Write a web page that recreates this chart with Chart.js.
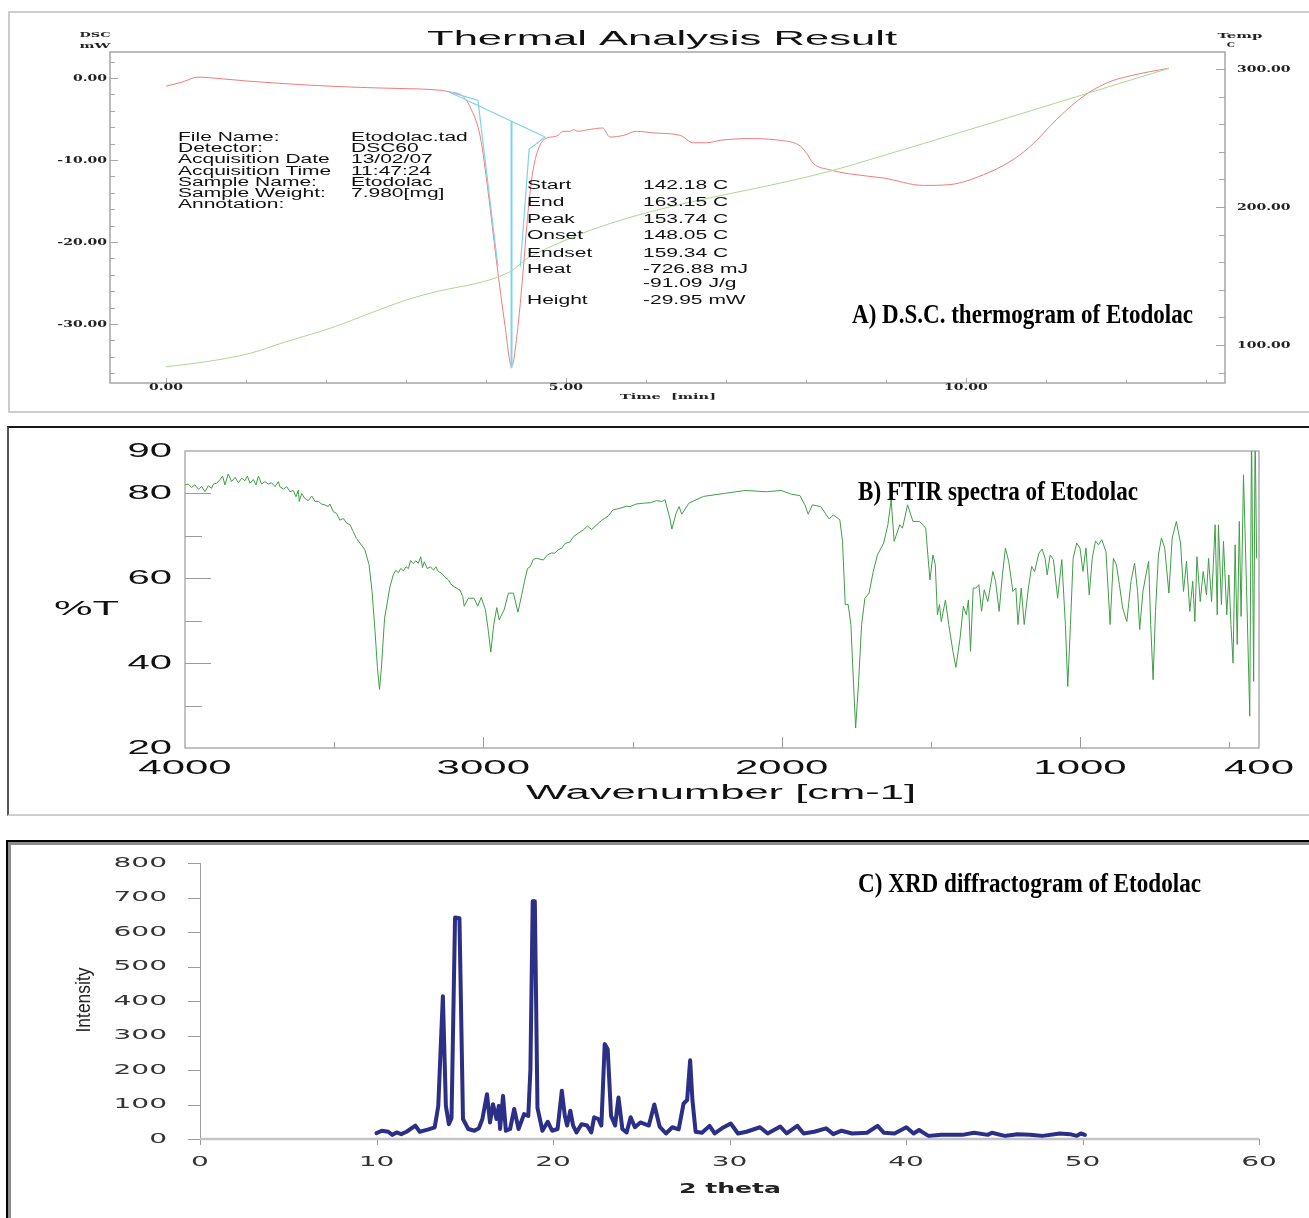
<!DOCTYPE html>
<html>
<head>
<meta charset="utf-8">
<title>Etodolac - DSC, FTIR and XRD</title>
<script src="https://cdn.jsdelivr.net/npm/chart.js@4.4.0/dist/chart.umd.min.js"></script>
<style>
  body { margin: 0; background: #fff; }
  #page { position: relative; width: 1309px; height: 1218px; overflow: hidden; }
  canvas { position: absolute; left: 0; }
  .frame { position: absolute; box-sizing: border-box; }
  #frameA { left: 8px; top: 11px; width: 1310px; height: 402px; border: 2px solid #cdcdcd; }
  #frameB { left: 7px; top: 426px; width: 1310px; height: 390px; border-top: 2px solid #1a1a1a; border-left: 2px solid #555; border-bottom: 2px solid #cfcfcf; }
  #frameC { left: 6px; top: 840px; width: 1310px; height: 400px; border-top: 2px solid #000; border-left: 2px solid #000; box-shadow: inset 3px 3px 0 #8c8c8c; }
</style>
</head>
<body>
<div id="page">
  <div class="frame" id="frameA"></div>
  <div class="frame" id="frameB"></div>
  <div class="frame" id="frameC"></div>
  <canvas id="dscChart" width="1309" height="415" style="top:0px"></canvas>
  <canvas id="ftirChart" width="1309" height="410" style="top:415px"></canvas>
  <canvas id="xrdChart" width="1309" height="393" style="top:825px"></canvas>
</div>
<script>
// ---------- A) DSC thermogram ----------
// heat flow (mW) against time (min), red curve
const dscTime = [0, 0.2, 0.4, 0.7, 1.05, 1.5, 2.05, 2.6, 3.0, 3.3,
  3.55, 3.72, 3.82, 3.93, 4.03, 4.13, 4.24, 4.32, 4.40, 4.47,
  4.51, 4.55, 4.59, 4.65, 4.74, 4.88, 4.97, 5.05, 5.1, 5.15,
  5.28, 5.46, 5.55, 5.72, 5.88, 6.1, 6.43, 6.59, 6.76, 6.93,
  7.26, 7.68, 7.93, 8.01, 8.09, 8.3, 8.55, 8.97, 9.47, 9.8,
  10.22, 10.55, 10.8, 11.13, 11.38, 11.55, 11.8, 12.01, 12.3, 12.54];
const dscHeat = [-1.0, -0.5, 0.1, -0.1, -0.4, -0.7, -1.0, -1.2, -1.3, -1.4,
  -1.7, -2.3, -3.9, -7.2, -14.1, -22.2, -30.3, -35.2, -30.3, -23.0,
  -18.1, -14.1, -11.2, -8.8, -7.4, -7.1, -6.5, -6.5, -6.3, -6.5,
  -6.3, -6.1, -7.2, -7.0, -6.5, -6.7, -7.0, -7.9, -7.9, -7.6,
  -7.4, -7.6, -8.3, -9.2, -10.4, -11.2, -11.7, -12.2, -13.1, -13.0,
  -11.8, -10.2, -8.4, -5.1, -2.9, -1.7, -0.45, 0.16, 0.77, 1.18];

// sample temperature (C), green curve on the right axis
const tempTime = [0, 0.5, 1.05, 1.5, 2.05, 2.6, 3.0, 3.3, 4.3, 4.55, 8.55, 12.54];
const tempC = [84.3, 87.9, 94, 102.4, 112.1, 124.1, 132.6, 137.5, 153.1, 164, 230, 300.5];

// peak analysis construction lines (cyan)
const baseT = [3.54, 4.74];
const baseY = [-1.7, -7.2];
const onsetT = [3.54, 3.9, 4.15];
const onsetY = [-1.7, -2.7, -23];
const endsetT = [4.43, 4.54, 4.74];
const endsetY = [-23, -8.7, -7.2];
const peakLineT = [4.32, 4.32];
const peakLineY = [-5.3, -35.4];

const dscHeatTicks = [0, -10, -20, -30];
const dscTempTicks = [100, 200, 300];
const dscTimeTicks = [0, 5, 10];

const infoLabels = ['File Name:', 'Detector:', 'Acquisition Date', 'Acquisition Time', 'Sample Name:', 'Sample Weight:', 'Annotation:'];
const infoValues = ['Etodolac.tad', 'DSC60', '13/02/07', '11:47:24', 'Etodolac', '7.980[mg]', ''];
const peakLabels = ['Start', 'End', 'Peak', 'Onset', 'Endset', 'Heat', '', 'Height'];
const peakValues = ['142.18 C', '163.15 C', '153.74 C', '148.05 C', '159.34 C', '-726.88 mJ', '-91.09 J/g', '-29.95 mW'];

// ---------- B) FTIR spectrum ----------
const ftirWavenumber = [
  // 4000 - 3380
  4000, 3989, 3978, 3967, 3955, 3944, 3933, 3922, 3911, 3905,
  3894, 3883, 3874, 3866, 3855, 3844, 3832, 3821, 3810, 3799,
  3791, 3782, 3771, 3762, 3754, 3743, 3732, 3721, 3710, 3698,
  3687, 3682, 3670, 3659, 3648, 3637, 3628, 3620, 3617, 3609,
  3598, 3587, 3575, 3564, 3553, 3542, 3531, 3520, 3514, 3503,
  3492, 3481, 3469, 3458, 3447, 3436, 3425, 3397, 3383,
  // O-H / N-H band
  3373, 3363, 3355, 3348, 3341, 3331,
  // 3313 - 3069
  3313, 3302, 3293, 3285, 3277, 3268, 3259, 3251, 3244, 3235,
  3226, 3218, 3210, 3204, 3198, 3188, 3177, 3167, 3159, 3151,
  3140, 3128, 3117, 3106, 3095, 3078, 3069,
  // C-H bands
  3064, 3050, 3031, 3019, 3007, 2993, 2983, 2975, 2965, 2955,
  2947, 2930, 2916, 2899, 2884, 2871, 2862,
  // 2852 - 2391
  2852, 2843, 2832, 2821, 2799, 2785, 2771, 2760, 2749, 2737,
  2726, 2709, 2698, 2682, 2665, 2651, 2637, 2620, 2603, 2581,
  2566, 2542, 2520, 2508, 2488, 2464, 2441, 2419, 2402, 2391,
  // 2375 - 1922
  2375, 2368, 2354, 2344, 2335, 2311, 2262, 2192, 2122, 2051,
  2002, 1967, 1939, 1922,
  // fingerprint region
  1911, 1897, 1869, 1841, 1827, 1805, 1796, 1787, 1777, 1768,
  1759, 1752, 1742, 1732, 1721, 1707, 1693, 1679, 1658, 1644,
  1633, 1623, 1604, 1595, 1578, 1560, 1538, 1517, 1510, 1503,
  1493, 1485, 1478, 1471, 1465, 1451, 1440, 1426, 1416, 1402,
  1391, 1381, 1374, 1367, 1358, 1349, 1339, 1330, 1321, 1309,
  1292, 1283, 1271, 1260, 1250, 1239, 1225, 1215, 1208, 1197,
  1187, 1173, 1162, 1152, 1138, 1127, 1117, 1110, 1100, 1089,
  1075, 1061, 1049, 1041, 1032, 1023, 1011, 1000, 990, 980,
  969, 959, 948, 938, 927, 913, 899, 888, 878, 868,
  857, 843, 829, 817, 807, 800, 789, 779, 770, 763,
  755, 747, 737, 727, 716, 702, 691, 677, 663, 653,
  643, 632, 622, 615, 608, 597, 587, 576, 569, 559,
  547, 540, 536, 526, 519, 508, 501, 494, 487, 480,
  473, 466, 460, 452, 442, 431, 425, 418, 413, 408];
const ftirTransmittance = [
  82.0, 82.2, 81.4, 82.0, 81.0, 81.6, 80.4, 81.8, 81.2, 82.2,
  82.4, 83.2, 84.1, 82.0, 84.6, 82.8, 83.8, 82.5, 83.6, 83.0,
  84.1, 82.4, 83.3, 82.0, 84.1, 82.2, 82.8, 82.2, 82.5, 81.6,
  82.8, 81.6, 81.0, 81.6, 80.4, 80.7, 79.2, 80.8, 78.1, 80.0,
  78.8, 78.3, 79.4, 78.1, 78.1, 77.5, 77.3, 76.9, 77.5, 75.7,
  75.3, 73.7, 74.1, 73.0, 72.6, 71.0, 69.4, 66.7, 63.2,

  56.9, 47.5, 38.9, 33.8, 39.6, 50.6,

  58.0, 60.8, 61.9, 61.3, 62.3, 61.8, 62.7, 62.3, 64.2, 63.5,
  64.1, 63.5, 65.1, 62.5, 63.9, 62.3, 62.7, 61.9, 62.7, 61.6,
  61.2, 60.2, 59.6, 58.4, 57.9, 57.2, 55.7,

  53.4, 55.3, 55.3, 53.4, 55.5, 52.6, 47.5, 42.6, 49.1, 53.1,
  50.2, 52.6, 56.5, 56.5, 52.0, 56.2, 59.3,

  62.3, 62.7, 64.5, 64.7, 64.3, 65.5, 66.0, 65.9, 66.7, 67.1,
  68.2, 68.6, 69.8, 70.6, 71.4, 72.3, 71.5, 72.6, 73.7, 74.7,
  76.1, 76.5, 77.0, 76.9, 77.5, 77.7, 77.8, 78.3, 78.1, 78.5,

  74.2, 71.6, 75.3, 76.9, 75.1, 77.7, 79.3, 80.0, 80.7, 80.4,
  80.7, 79.8, 79.5, 77.3,

  75.1, 77.3, 76.9, 74.0, 74.9, 73.8, 68.7, 53.8, 53.8, 49.1,
  34.9, 24.7, 35.7, 49.1, 55.3, 56.5, 61.6, 65.5, 68.3, 72.6,
  78.5, 68.7, 72.6, 71.8, 77.3, 73.4, 73.4, 71.8, 65.5, 59.6,
  65.5, 63.2, 51.4, 53.8, 49.8, 54.9, 49.1, 42.8, 39.0, 45.9,
  53.4, 51.4, 54.9, 42.8, 57.7, 57.7, 58.5, 52.2, 57.3, 54.5,
  61.6, 59.3, 52.2, 60.8, 67.1, 64.0, 56.9, 57.7, 49.1, 57.7,
  49.1, 57.7, 62.8, 61.6, 65.9, 66.9, 64.7, 60.8, 65.5, 64.4,
  55.3, 64.4, 49.1, 34.5, 49.1, 64.7, 68.3, 67.1, 61.6, 67.1,
  56.1, 64.7, 68.8, 67.9, 69.1, 66.3, 49.1, 64.7, 63.2, 58.5,
  53.0, 49.8, 59.3, 63.6, 56.9, 47.9, 56.9, 60.8, 64.0, 49.1,
  36.1, 52.2, 65.5, 69.5, 67.1, 56.5, 69.5, 73.4, 68.3, 56.9,
  64.0, 52.2, 59.3, 49.8, 65.1, 54.5, 61.6, 56.1, 64.7, 54.5,
  72.6, 51.4, 72.6, 53.8, 68.7, 51.4, 60.8, 49.1, 40.0, 67.9,
  44.4, 73.4, 51.0, 84.4, 58.5, 27.5, 95.0, 35.7, 95.0, 64.7];
const ftirYTicks = [20, 40, 60, 80, 90];
const ftirXTicks = [4000, 3000, 2000, 1000, 400];

// ---------- C) XRD diffractogram ----------
const xrdTwoTheta = [10.0, 10.3, 10.67, 10.9, 11.14, 11.4, 11.7, 12.2, 12.45, 12.9,
  13.3, 13.5, 13.76, 13.93, 14.1, 14.25, 14.45, 14.7, 14.9, 15.2,
  15.55, 15.8, 16.0, 16.26, 16.43, 16.6, 16.8, 16.93, 17.0, 17.17,
  17.33, 17.57, 17.8, 18.05, 18.36, 18.6, 18.72, 18.85, 18.97, 19.12,
  19.4, 19.7, 19.95, 20.26, 20.5, 20.67, 20.8, 20.98, 21.14, 21.33,
  21.62, 21.93, 22.17, 22.33, 22.57, 22.74, 22.93, 23.1, 23.29, 23.52,
  23.71, 23.93, 24.17, 24.4, 24.64, 24.95, 25.43, 25.74, 26.04, 26.4,
  26.76, 27.12, 27.4, 27.6, 27.77, 27.9, 28.08, 28.44, 28.87, 29.16,
  29.57, 30.07, 30.48, 30.96, 31.73, 32.16, 32.88, 33.24, 33.84, 34.2,
  34.8, 35.47, 35.88, 36.35, 36.95, 37.79, 38.39, 38.75, 39.35, 40.02,
  40.43, 40.74, 41.27, 41.99, 43.19, 43.86, 44.63, 44.87, 45.59, 46.31,
  47.03, 47.75, 48.71, 49.3, 49.66, 49.9, 50.14];
const xrdIntensity = [17, 24, 21, 12, 19, 14, 21, 39, 21, 27,
  34, 96, 414, 96, 43, 60, 642, 640, 58, 29,
  24, 31, 58, 130, 48, 101, 58, 96, 29, 125,
  24, 29, 87, 29, 72, 67, 200, 689, 689, 90,
  24, 50, 24, 29, 140, 67, 39, 82, 39, 19,
  43, 39, 19, 63, 58, 39, 275, 260, 67, 39,
  120, 29, 19, 63, 34, 48, 39, 100, 36, 16,
  34, 28, 103, 113, 228, 113, 21, 18, 38, 16,
  31, 45, 16, 21, 34, 16, 36, 16, 38, 16,
  21, 31, 14, 24, 16, 18, 38, 18, 16, 34,
  16, 26, 9, 12, 12, 18, 12, 18, 9, 14,
  12, 9, 16, 14, 9, 16, 12];
const xrdYTicks = [0, 100, 200, 300, 400, 500, 600, 700, 800];
const xrdXTicks = [0, 10, 20, 30, 40, 50, 60];

// Turns two parallel arrays into {x, y} points for Chart.js
function toPoints(xs, ys) {
  return xs.map((v, i) => ({ x: v, y: ys[i] }));
}

// Draws text stretched horizontally by sx (the originals use extended / condensed faces)
function drawText(ctx, text, x, y, font, sx, align, color) {
  ctx.save();
  ctx.font = font;
  ctx.fillStyle = color || '#111';
  ctx.textBaseline = 'middle';
  ctx.textAlign = 'left';
  const w = ctx.measureText(text).width * sx;
  let left = x;
  if (align === 'right') left = x - w;
  if (align === 'center') left = x - w / 2;
  ctx.translate(left, y);
  ctx.scale(sx, 1);
  ctx.fillText(text, 0, 0);
  ctx.restore();
}

// Same, but squeezes/stretches the text to an exact width
function fitText(ctx, text, x, y, font, width, align, color) {
  ctx.save();
  ctx.font = font;
  const sx = width / ctx.measureText(text).width;
  ctx.restore();
  drawText(ctx, text, x, y, font, sx, align, color);
}

const captionFont = 'bold 28px "Liberation Serif"';

// Axes, ticks and texts of the DSC panel
const dscAxes = {
  id: 'dscAxes',
  afterDraw(chart) {
    const ctx = chart.ctx;
    const a = chart.chartArea;
    const sx = chart.scales.x, sy = chart.scales.y, sy2 = chart.scales.y2;
    ctx.save();
    ctx.strokeStyle = '#a6a6a6';
    ctx.lineWidth = 1.5;
    ctx.strokeRect(a.left, a.top, a.right - a.left, a.bottom - a.top);
    ctx.lineWidth = 1;
    ctx.beginPath();
    for (let v = -36; v <= 2; v += 2) {
      const py = Math.round(sy.getPixelForValue(v)) + 0.5;
      ctx.moveTo(a.left, py);
      ctx.lineTo(a.left + (v % 10 === 0 ? 8 : 5), py);
    }
    for (let v = 80; v <= 300; v += 20) {
      const py = Math.round(sy2.getPixelForValue(v)) + 0.5;
      ctx.moveTo(a.right, py);
      ctx.lineTo(a.right - (v % 100 === 0 ? 9 : 6), py);
    }
    for (let t = 0; t <= 13; t++) {
      const px = Math.round(sx.getPixelForValue(t)) + 0.5;
      ctx.moveTo(px, a.bottom);
      ctx.lineTo(px, a.bottom - (t % 5 === 0 ? 5 : 3));
    }
    ctx.stroke();
    ctx.restore();

    const tickFont = 'bold 10px "DejaVu Serif"';
    dscHeatTicks.forEach(v => drawText(ctx, v.toFixed(2), a.left - 3, sy.getPixelForValue(v), tickFont, 1.4, 'right', '#222'));
    dscTempTicks.forEach(v => drawText(ctx, v.toFixed(2), a.right + 12, sy2.getPixelForValue(v), tickFont, 1.4, 'left', '#222'));
    dscTimeTicks.forEach(v => drawText(ctx, v.toFixed(2), sx.getPixelForValue(v), 387, tickFont, 1.4, 'center', '#222'));

    const smallFont = 'bold 8px "DejaVu Serif"';
    fitText(ctx, 'DSC', 95, 35, smallFont, 31, 'center', '#222');
    fitText(ctx, 'mW', 95, 45.5, smallFont, 31, 'center', '#222');
    fitText(ctx, 'Temp', 1240, 35.5, smallFont, 45, 'center', '#222');
    drawText(ctx, 'C', 1231, 45, smallFont, 1.3, 'center', '#222');
    fitText(ctx, 'Time  [min]', 668, 397, smallFont, 96, 'center', '#222');

    fitText(ctx, 'Thermal Analysis Result', 662, 39, '20px "Liberation Sans"', 470, 'center', '#111');

    const infoFont = '12px "Liberation Sans"';
    infoLabels.forEach((t, i) => {
      const y = 137.7 + i * 11.2;
      drawText(ctx, t, 178, y, infoFont, 1.75, 'left', '#111');
      if (infoValues[i]) drawText(ctx, infoValues[i], 351, y, infoFont, 1.75, 'left', '#111');
    });
    const peakRowY = [186, 202.7, 219.3, 236, 253.3, 270, 283.3, 300.7];
    peakLabels.forEach((t, i) => {
      if (t) drawText(ctx, t, 527, peakRowY[i], infoFont, 1.75, 'left', '#111');
      drawText(ctx, peakValues[i], 643, peakRowY[i], infoFont, 1.75, 'left', '#111');
    });

    fitText(ctx, 'A) D.S.C. thermogram of Etodolac', 852, 316, captionFont, 341, 'left', '#000');
  }
};

// Axes, ticks and texts of the FTIR panel (canvas starts at page y = 415)
const ftirAxes = {
  id: 'ftirAxes',
  afterDraw(chart) {
    const ctx = chart.ctx;
    const a = chart.chartArea;
    const sx = chart.scales.x, sy = chart.scales.y;
    ctx.save();
    ctx.strokeStyle = '#9a9a9a';
    ctx.lineWidth = 1.2;
    ctx.strokeRect(a.left, a.top, a.right - a.left, a.bottom - a.top);
    ctx.lineWidth = 1;
    ctx.beginPath();
    for (let v = 30; v <= 80; v += 10) {
      const py = Math.round(sy.getPixelForValue(v)) + 0.5;
      ctx.moveTo(a.left, py);
      ctx.lineTo(a.left + (v % 20 === 0 ? 26 : 17), py);
    }
    for (let v = 500; v <= 3500; v += 500) {
      const px = Math.round(sx.getPixelForValue(v)) + 0.5;
      ctx.moveTo(px, a.bottom);
      ctx.lineTo(px, a.bottom - (v % 1000 === 0 ? 11 : 6));
    }
    ctx.stroke();
    ctx.restore();

    const tickFont = '20px "Liberation Sans"';
    ftirYTicks.forEach(v => drawText(ctx, String(v), 172, sy.getPixelForValue(v), tickFont, 2.0, 'right', '#111'));
    ftirXTicks.forEach(v => drawText(ctx, String(v), sx.getPixelForValue(v), 768 - 415, tickFont, 2.1, 'center', '#111'));
    fitText(ctx, '%T', 86.5, 609 - 415, tickFont, 65, 'center', '#111');
    fitText(ctx, 'Wavenumber [cm-1]', 721, 793 - 415, tickFont, 390, 'center', '#111');

    fitText(ctx, 'B) FTIR spectra of Etodolac', 858, 493 - 415, captionFont, 280, 'left', '#000');
  }
};

// Axes, ticks and texts of the XRD panel (canvas starts at page y = 825)
const xrdAxes = {
  id: 'xrdAxes',
  afterDraw(chart) {
    const ctx = chart.ctx;
    const a = chart.chartArea;
    const sx = chart.scales.x, sy = chart.scales.y;
    ctx.save();
    ctx.strokeStyle = '#9c9c9c';
    ctx.lineWidth = 1;
    ctx.beginPath();
    ctx.moveTo(a.left + 0.5, a.top);
    ctx.lineTo(a.left + 0.5, a.bottom);
    xrdYTicks.forEach(v => {
      const py = Math.round(sy.getPixelForValue(v)) + 0.5;
      ctx.moveTo(a.left - 12, py);
      ctx.lineTo(a.left, py);
    });
    xrdXTicks.forEach(v => {
      const px = Math.round(sx.getPixelForValue(v)) + 0.5;
      ctx.moveTo(px, a.bottom);
      ctx.lineTo(px, a.bottom + 6);
    });
    ctx.stroke();
    ctx.strokeStyle = '#c4c4c4';
    ctx.lineWidth = 2.5;
    ctx.beginPath();
    ctx.moveTo(a.left, a.bottom);
    ctx.lineTo(a.right, a.bottom);
    ctx.stroke();
    ctx.restore();

    const tickFont = '14px "DejaVu Sans"';
    xrdYTicks.forEach(v => drawText(ctx, String(v), 167, sy.getPixelForValue(v), tickFont, 2.0, 'right', '#333'));
    xrdXTicks.forEach(v => drawText(ctx, String(v), sx.getPixelForValue(v), 1162.5 - 825, tickFont, 2.0, 'center', '#333'));
    fitText(ctx, '2 theta', 730, 1189 - 825, 'bold 14px "DejaVu Sans"', 102, 'center', '#222');

    ctx.save();
    ctx.translate(84, 1000 - 825);
    ctx.rotate(-Math.PI / 2);
    fitText(ctx, 'Intensity', 0, 0, '21px "Liberation Sans"', 65, 'center', '#222');
    ctx.restore();

    fitText(ctx, 'C) XRD diffractogram of Etodolac', 858, 885 - 825, captionFont, 343, 'left', '#000');
  }
};

function baseOptions(padding, scales) {
  return {
    responsive: false,
    animation: false,
    layout: { padding: padding },
    plugins: { legend: { display: false }, tooltip: { enabled: false } },
    elements: { point: { radius: 0 } },
    scales: scales
  };
}

const cyan = '#7fd3e6';

new Chart(document.getElementById('dscChart'), {
  type: 'line',
  data: {
    datasets: [
      { label: 'Temp', data: toPoints(tempTime, tempC), yAxisID: 'y2', borderColor: '#a8d98f', borderWidth: 1, cubicInterpolationMode: 'monotone' },
      { label: 'Baseline', data: toPoints(baseT, baseY), borderColor: cyan, borderWidth: 1.2 },
      { label: 'Onset', data: toPoints(onsetT, onsetY), borderColor: cyan, borderWidth: 1.2 },
      { label: 'Endset', data: toPoints(endsetT, endsetY), borderColor: cyan, borderWidth: 1.2 },
      { label: 'Peak', data: toPoints(peakLineT, peakLineY), borderColor: cyan, borderWidth: 2 },
      { label: 'DSC', data: toPoints(dscTime, dscHeat), borderColor: '#f27b7b', borderWidth: 1, cubicInterpolationMode: 'monotone' }
    ]
  },
  options: baseOptions({ left: 110, right: 84, top: 52, bottom: 32 }, {
    x: { type: 'linear', min: -0.7, max: 13.24, display: false },
    y: { type: 'linear', min: -37.2, max: 3.17, display: false },
    y2: { type: 'linear', position: 'right', min: 72.5, max: 312.3, display: false }
  }),
  plugins: [dscAxes]
});

new Chart(document.getElementById('ftirChart'), {
  type: 'line',
  data: {
    datasets: [
      { label: '%T', data: toPoints(ftirWavenumber, ftirTransmittance), borderColor: '#3f9e45', borderWidth: 1 }
    ]
  },
  options: baseOptions({ left: 185, right: 50, top: 36, bottom: 77 }, {
    x: { type: 'linear', min: 400, max: 4000, reverse: true, display: false },
    y: { type: 'linear', min: 20, max: 90, display: false }
  }),
  plugins: [ftirAxes]
});

new Chart(document.getElementById('xrdChart'), {
  type: 'line',
  data: {
    datasets: [
      { label: 'Intensity', data: toPoints(xrdTwoTheta, xrdIntensity), borderColor: '#2c2f86', borderWidth: 4, borderJoinStyle: 'round', borderCapStyle: 'round' }
    ]
  },
  options: baseOptions({ left: 200, right: 50, top: 38, bottom: 79 }, {
    x: { type: 'linear', min: 0, max: 60, display: false },
    y: { type: 'linear', min: 0, max: 800, display: false }
  }),
  plugins: [xrdAxes]
});
</script>
</body>
</html>
